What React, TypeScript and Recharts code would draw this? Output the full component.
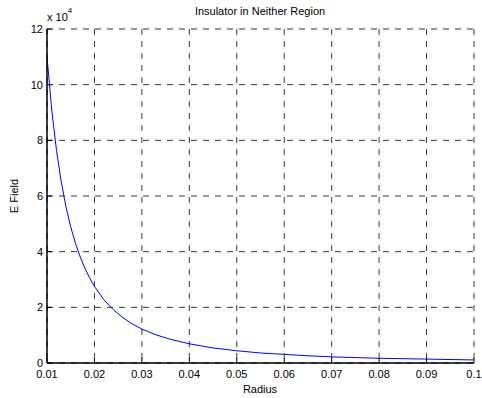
import { LineChart, Line, XAxis, YAxis, CartesianGrid } from 'recharts'

const radius = [
  0.01, 0.011, 0.012, 0.013, 0.014, 0.015, 0.016, 0.017, 0.018, 0.019, 0.02, 0.022, 0.024, 0.026,
  0.028, 0.03, 0.033, 0.036, 0.04, 0.045, 0.05, 0.055, 0.06, 0.065, 0.07, 0.08, 0.09, 0.1,
]
const eField = [
  110000, 90900, 76400, 65100, 56100, 48900, 43000, 38100, 34000, 30500, 27500, 22700, 19100, 16300,
  14000, 12200, 10100, 8500, 6900, 5400, 4400, 3600, 3100, 2600, 2200, 1700, 1400, 1100,
]
const xTicks = [0.01, 0.02, 0.03, 0.04, 0.05, 0.06, 0.07, 0.08, 0.09, 0.1]
const yTicks = [0, 20000, 40000, 60000, 80000, 100000, 120000]

const data = radius.map((r, i) => ({ r, e: eField[i] }))

const font = { fontFamily: '"Liberation Sans", Arial, sans-serif', fontSize: 11, fill: '#000' }
const axisLine = { stroke: '#000', strokeWidth: 1.5 }
const tickLine = { stroke: '#000', strokeWidth: 1 }

export default function App() {
  return (
    <div style={{ position: 'absolute', left: 0, top: 0, width: 482, height: 398, background: '#fff', fontFamily: font.fontFamily }}>
      <LineChart width={482} height={398} data={data} margin={{ top: 29, right: 8, bottom: 0, left: 0 }}>
        <CartesianGrid stroke="#222" strokeDasharray="6 6" strokeWidth={0.9} />
        <XAxis
          dataKey="r"
          type="number"
          domain={[0.01, 0.1]}
          ticks={xTicks}
          tickFormatter={(v: number) => String(v)}
          tick={font}
          tickLine={tickLine}
          tickSize={-5}
          axisLine={axisLine}
          height={35}
          tickMargin={12}
        />
        <XAxis xAxisId="top" orientation="top" dataKey="r" type="number" domain={[0.01, 0.1]} ticks={xTicks} tickFormatter={() => ''} tickLine={tickLine} tickSize={-5} axisLine={axisLine} height={0} />
        <YAxis
          type="number"
          domain={[0, 120000]}
          ticks={yTicks}
          tickFormatter={(v: number) => String(v / 10000)}
          tick={font}
          tickLine={tickLine}
          tickSize={-5}
          axisLine={axisLine}
          width={47}
          tickMargin={9}
        />
        <YAxis yAxisId="right" orientation="right" type="number" domain={[0, 120000]} ticks={yTicks} tickFormatter={() => ''} tickLine={tickLine} tickSize={-5} axisLine={axisLine} width={0} />
        <Line type="linear" dataKey="e" stroke="#0000ff" strokeWidth={1} dot={false} isAnimationActive={false} />
      </LineChart>
      <div style={{ position: 'absolute', left: 0, width: 520, top: 5, textAlign: 'center', fontSize: 11 }}>Insulator in Neither Region</div>
      <div style={{ position: 'absolute', left: 47, top: 11, fontSize: 11 }}>
        x 10<sup style={{ fontSize: 8, verticalAlign: 'top', position: 'relative', top: -5 }}>4</sup>
      </div>
      <div style={{ position: 'absolute', left: 0, width: 520, top: 383, textAlign: 'center', fontSize: 11 }}>Radius</div>
      <div style={{ position: 'absolute', left: 14, top: 196, fontSize: 11, transform: 'translate(-50%, -50%) rotate(-90deg)', whiteSpace: 'nowrap' }}>E Field</div>
    </div>
  )
}
